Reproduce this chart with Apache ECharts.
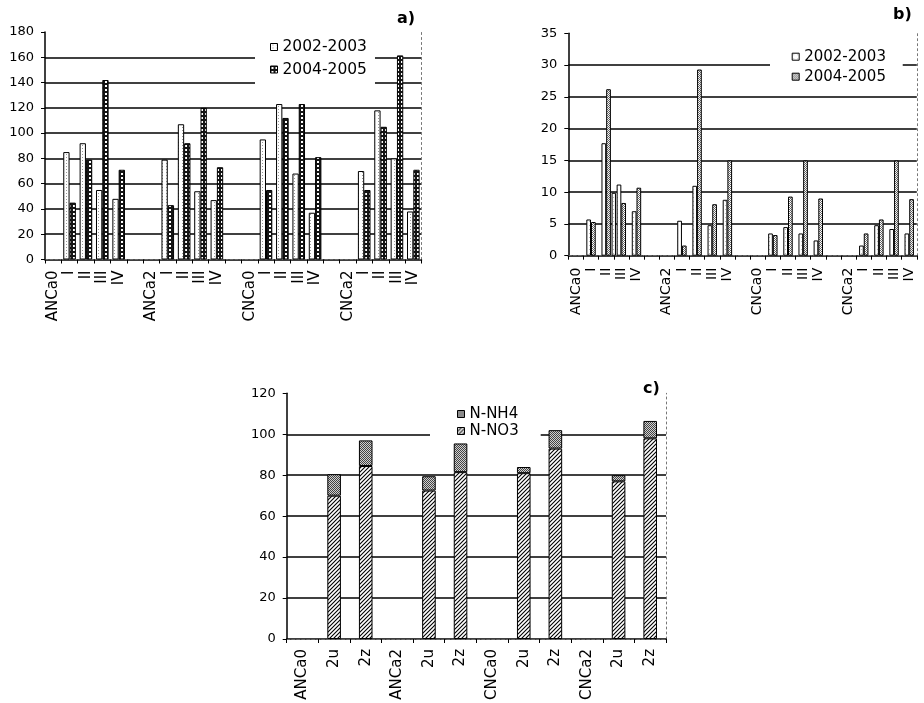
<!DOCTYPE html>
<html><head><meta charset="utf-8">
<script src="https://cdn.jsdelivr.net/npm/echarts/dist/echarts.min.js"></script>
<style>html,body{margin:0;padding:0;background:#fff}#c{width:924px;height:703px}</style>
</head><body><div id="c"></div>
<script>
// ---------- data ----------
const catsAB = ['ANCa0','I','II','III','IV','','ANCa2','I','II','III','IV','','CNCa0','I','II','III','IV','','CNCa2','I','II','III','IV'];
const catsC  = ['ANCa0','2u','2z','ANCa2','2u','2z','CNCa0','2u','2z','CNCa2','2u','2z'];
const seriesNames = ['2002-2003','2004-2005'];
const cNames = ['N-NH4','N-NO3'];

// panel a)
const a2002 = [null,85,92,55,48,null,null,79,107,54,47,null,null,95,123,68,37,null,null,70,118,80,38];
const a2004 = [null,45,79,142,71,null,null,43,92,120,73,null,null,55,112,123,81,null,null,55,105,161.5,71];
// panel b)
const b2002 = [null,5.7,17.7,11.2,7.0,null,null,5.5,11.0,4.8,8.8,null,null,3.5,4.5,3.5,2.4,null,null,1.6,4.8,4.2,3.5];
const b2004 = [null,5.3,26.2,8.3,10.7,null,null,1.6,29.3,8.1,15,null,null,3.25,9.3,15,9.0,null,null,3.5,5.7,15,8.9];
// extra unlabeled bar drawn on category boundaries (24 boundary points)
const bExtra = [null,null,null,9.9,null,null,null,null,null,null,null,null,null,null,null,null,null,null,null,null,null,null,null,null];
// panel c)
const cNO3 = [null,70,84.5,null,72.5,81.5,null,81,93,null,77,98];
const cNH4 = [null,10.5,12.5,null,7,14,null,3,9,null,3,8.5];

const yTicksA = {min:0,max:180,interval:20};
const yTicksB = {min:0,max:35,interval:5};
const yTicksC = {min:0,max:120,interval:20};

// ---------- patterns ----------
function pat(w,h,draw){const c=document.createElement('canvas');c.width=w;c.height=h;const g=c.getContext('2d');draw(g,w,h);return {image:c,repeat:'repeat'};}
const pAWhite = pat(4,3,(g)=>{g.fillStyle='#fff';g.fillRect(0,0,4,3);g.fillStyle='#999';g.fillRect(2,1,1,1);});
const pADark  = pat(4,4,(g)=>{g.fillStyle='#151515';g.fillRect(0,0,4,4);g.fillStyle='#fff';g.fillRect(1,1,2,2);});
const pBWhite = pat(4,4,(g)=>{g.fillStyle='#fff';g.fillRect(0,0,4,4);g.fillStyle='#bbb';g.fillRect(1,1,1,1);});
const pBDark  = pat(2,2,(g)=>{g.fillStyle='#fff';g.fillRect(0,0,2,2);g.fillStyle='#666';g.fillRect(0,0,1,1);g.fillRect(1,1,1,1);});
const pHatch  = pat(4,4,(g,w,h)=>{g.fillStyle='#fff';g.fillRect(0,0,w,h);g.strokeStyle='#000';g.lineWidth=1.1;g.beginPath();
  g.moveTo(0,h);g.lineTo(w,0);g.moveTo(-1,1);g.lineTo(1,-1);g.moveTo(w-1,h+1);g.lineTo(w+1,h-1);g.stroke();});
const pNH4    = pat(2,2,(g)=>{g.fillStyle='#d0d0d0';g.fillRect(0,0,2,2);g.fillStyle='#444';g.fillRect(0,0,1,1);g.fillRect(1,1,1,1);});

// ---------- styles ----------
const FF = 'DejaVu Sans';
const black = '#000';
function bottomX(grid, data, fs, mg){
  return {type:'category', gridIndex:grid, data:data, position:'bottom',
    axisLine:{lineStyle:{color:black,width:1.5}},
    axisTick:{show:true,length:4,lineStyle:{color:black,width:1}},
    axisLabel:{interval:0,rotate:90,margin:mg,fontFamily:FF,fontSize:fs,color:black},
    splitLine:{show:false}};
}
function topX(grid, data, bg){
  return {type:'category', gridIndex:grid, data:data, position:'top', boundaryGap:bg,
    axisLine:{lineStyle:{color:'#666',width:1,type:[3,2]}},
    axisTick:{show:false}, axisLabel:{show:false}, splitLine:{show:false}};
}
function leftY(grid, t){
  return {type:'value', gridIndex:grid, min:t.min, max:t.max, interval:t.interval, position:'left',
    axisLine:{show:true,lineStyle:{color:black,width:1.5}},
    axisTick:{show:true,length:4,lineStyle:{color:black,width:1}},
    axisLabel:{margin:11,fontFamily:FF,fontSize:13,color:black},
    splitLine:{show:true,showMinLine:false,showMaxLine:false,lineStyle:{color:'#000',width:1.5}}};
}
function rightY(grid, t){
  return {type:'value', gridIndex:grid, min:t.min, max:t.max, interval:t.interval, position:'right',
    axisLine:{show:true,lineStyle:{color:'#777',width:1,type:[2,3]}},
    axisTick:{show:false}, axisLabel:{show:false}, splitLine:{show:false}};
}
function barS(name, xi, yi, data, fill, gap){
  return {type:'bar', name:name, xAxisIndex:xi, yAxisIndex:yi, data:data, barGap:'0%', barCategoryGap:gap,
    itemStyle:{color:fill,borderColor:black,borderWidth:1}, emphasis:{disabled:true}, z:2};
}
const emptyTop = new Array(24).fill('');

const option = {
  animation:false,
  backgroundColor:'#fff',
  title:[
    {text:'a)', left:397, top:11, padding:0, textStyle:{fontFamily:FF,fontSize:16,fontWeight:'bold',color:black}},
    {text:'b)', left:893, top:7, padding:0, textStyle:{fontFamily:FF,fontSize:16,fontWeight:'bold',color:black}},
    {text:'c)', left:643, top:381, padding:0, textStyle:{fontFamily:FF,fontSize:16,fontWeight:'bold',color:black}}
  ],
  grid:[
    {left:45, top:32, width:376.5, height:227.5, outerBoundsMode:'none', containLabel:false},
    {left:568.3, top:33.3, width:348.5, height:222.4, outerBoundsMode:'none', containLabel:false},
    {left:286.7, top:393.3, width:379.3, height:245.7, outerBoundsMode:'none', containLabel:false}
  ],
  legend:[
    {data:seriesNames, orient:'vertical', left:255, top:33.5, padding:[5.5,8,16,15], backgroundColor:'#fff',
     itemWidth:7, itemHeight:7, itemGap:6.5, icon:'rect', selectedMode:false,
     itemStyle:{borderColor:black,borderWidth:1},
     textStyle:{fontFamily:FF,fontSize:15.5,lineHeight:16,color:black}},
    {data:seriesNames.map(n=>n+' '), orient:'vertical', left:770, top:34, padding:[14.7,12,4,21.7], backgroundColor:'#fff',
     itemWidth:7, itemHeight:7, itemGap:4, icon:'rect', selectedMode:false,
     itemStyle:{borderColor:black,borderWidth:1},
     textStyle:{fontFamily:FF,fontSize:15,lineHeight:16,color:black}},
    {data:cNames, orient:'vertical', left:430, top:394.5, padding:[12,22,4,27], backgroundColor:'#fff',
     itemWidth:7, itemHeight:7, itemGap:2, icon:'rect', selectedMode:false,
     itemStyle:{borderColor:black,borderWidth:1},
     textStyle:{fontFamily:FF,fontSize:15,lineHeight:15,color:black}}
  ],
  xAxis:[
    bottomX(0,catsAB,15,11), topX(0,catsAB,true),
    bottomX(1,catsAB,14,12), topX(1,emptyTop,false),
    bottomX(2,catsC,15,10),  topX(2,catsC,true)
  ],
  yAxis:[
    leftY(0,yTicksA), rightY(0,yTicksA),
    leftY(1,yTicksB), rightY(1,yTicksB),
    leftY(2,yTicksC), rightY(2,yTicksC)
  ],
  series:[
    barS(seriesNames[0],0,0,a2002,pAWhite,'23%'),
    barS(seriesNames[1],0,0,a2004,pADark,'23%'),
    barS(seriesNames[0]+' ',2,2,b2002,pBWhite,'38%'),
    barS(seriesNames[1]+' ',2,2,b2004,pBDark,'38%'),
    Object.assign(barS('extra',3,2,bExtra,pBWhite,'38%'),{barWidth:4.4}),
    Object.assign(barS(cNames[1],4,4,cNO3,pHatch,'57%'),{stack:'c'}),
    Object.assign(barS(cNames[0],4,4,cNH4,pNH4,'57%'),{stack:'c'})
  ]
};
const chart = echarts.init(document.getElementById('c'), null, {renderer:'canvas'});
chart.setOption(option);
</script>
</body></html>
